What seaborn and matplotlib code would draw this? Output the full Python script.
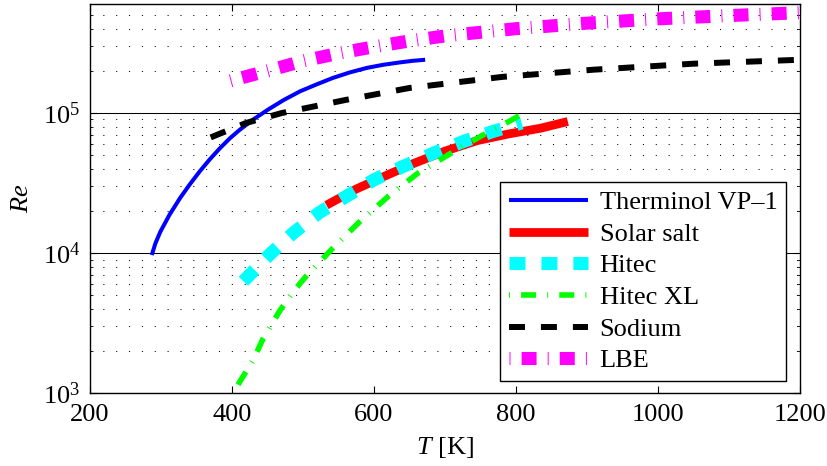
import numpy as np
import pandas as pd
import matplotlib
matplotlib.use("Agg")
import matplotlib.pyplot as plt
import seaborn as sns
from matplotlib.ticker import LogLocator, NullFormatter, FuncFormatter, FixedLocator

# Reynolds number vs. temperature for several heat-transfer fluids
therminol_T = [287, 292, 299, 312, 327, 340, 355, 369, 383, 397, 411, 430, 451,
               473, 496, 519, 542, 566, 590, 613, 637, 655, 672]
therminol_Re = [9.7e3, 1.17e4, 1.42e4, 1.88e4, 2.48e4, 3.07e4, 3.86e4, 4.69e4, 5.61e4, 6.6e4,
                7.6e4, 9.0e4, 1.06e5, 1.24e5, 1.43e5, 1.6e5, 1.78e5, 1.95e5, 2.1e5,
                2.21e5, 2.3e5, 2.36e5, 2.4e5]

solar_T = [533, 575, 618, 655, 700, 745, 790, 835, 873]
solar_Re = [2.2e4, 2.87e4, 3.6e4, 4.35e4, 5.35e4, 6.35e4, 7.1e4, 7.8e4, 8.7e4]

hitec_T = [416, 454, 486, 523, 562, 600, 641, 684, 726, 768, 808]
hitec_Re = [6.3e3, 9.9e3, 1.39e4, 1.95e4, 2.56e4, 3.34e4, 4.16e4, 5.18e4, 6.27e4, 7.4e4, 8.5e4]

hitecxl_T = [400, 411, 430, 444, 468, 486, 505, 540, 580, 620, 662, 712, 752, 790, 817]
hitecxl_Re = [9.7e2, 1.21e3, 1.73e3, 2.47e3, 3.93e3, 5.3e3, 6.9e3, 1.06e4, 1.68e4, 2.54e4,
              3.73e4, 5.3e4, 6.9e4, 8.7e4, 1.04e5]

sodium_T = [370, 420, 470, 560, 650, 780, 910, 1050, 1200]
sodium_Re = [6.7e4, 8.5e4, 1.0e5, 1.24e5, 1.51e5, 1.81e5, 2.04e5, 2.25e5, 2.4e5]

lbe_T = [398, 450, 500, 550, 600, 650, 700, 800, 900, 1000, 1100, 1200]
lbe_Re = [1.7e5, 2.0e5, 2.35e5, 2.67e5, 2.97e5, 3.27e5, 3.55e5, 4.0e5, 4.38e5, 4.7e5, 4.96e5, 5.2e5]

labels = ["Therminol VP\u20131", "Solar salt", "Hitec", "Hitec XL", "Sodium", "LBE"]
x_ticks = [200, 400, 600, 800, 1000, 1200]

FS = 19

sns.set_theme(style="white")
plt.rcParams.update({
    "font.family": ["Liberation Serif", "DejaVu Serif"],
    "font.size": FS,
    "mathtext.fontset": "custom",
    "mathtext.rm": "Liberation Serif",
    "mathtext.it": "Liberation Serif:italic",
    "mathtext.bf": "Liberation Serif:bold",
    "lines.scale_dashes": False,
    "lines.solid_capstyle": "butt",
    "lines.dash_capstyle": "butt",
    "axes.edgecolor": "black",
    "axes.linewidth": 1.0,
    "axes.labelcolor": "black",
    "text.color": "black",
    "xtick.color": "black",
    "ytick.color": "black",
})

fig = plt.figure(figsize=(8.27, 4.66), dpi=100)
ax = fig.add_axes([90 / 827, 72.7 / 466, 710 / 827, 389.3 / 466])

dashdot = (0.7, 8.0, 10.8, 8.0)
styles = [
    (therminol_T, therminol_Re, "#0000ff", 2.9, None),
    (solar_T, solar_Re, "#ff0000", 6.3, None),
    (hitec_T, hitec_Re, "#00ffff", 9.4, (11.5, 11.5)),
    (hitecxl_T, hitecxl_Re, "#00ff00", 4.0, dashdot),
    (sodium_T, sodium_Re, "#000000", 4.3, (11.5, 11.5)),
    (lbe_T, lbe_Re, "#ff00ff", 9.4, dashdot),
]

for label, (T, Re, color, lw, dashes) in zip(labels, styles):
    df = pd.DataFrame({"T": T, "Re": Re})
    sns.lineplot(data=df, x="T", y="Re", ax=ax, color=color, linewidth=lw,
                 label=label, sort=False, estimator=None)
    line = ax.get_lines()[-1]
    if dashes is not None:
        line.set_dashes(dashes)

ax.set_yscale("log")
ax.set_xlim(200, 1200)
ax.set_ylim(1e3, 6e5)
ax.xaxis.set_major_locator(FixedLocator(x_ticks))
ax.yaxis.set_major_locator(LogLocator(base=10, numticks=10))
ax.yaxis.set_minor_locator(LogLocator(base=10, subs=np.arange(2, 10), numticks=20))
ax.yaxis.set_minor_formatter(NullFormatter())
ax.yaxis.set_major_formatter(FuncFormatter(lambda v, p: r"$10^{%d}$" % round(np.log10(v))))

ax.set_axisbelow(True)
ax.xaxis.grid(False)
ax.yaxis.grid(True, which="major", color="black", linestyle="-", linewidth=0.75)
ax.yaxis.grid(True, which="minor", color="black", linestyle=(0, (0.75, 8.5)), linewidth=0.75)

ax.tick_params(which="both", direction="in", top=True, right=True, bottom=True, left=True,
               labelsize=FS)
ax.tick_params(which="major", length=5, width=0.8)
ax.tick_params(which="minor", length=2.5, width=0.6)
ax.tick_params(axis="x", pad=8)
ax.tick_params(axis="y", pad=7)

for s in ax.spines.values():
    s.set_visible(True)
    s.set_color("black")
    s.set_linewidth(1.0)

ax.set_xlabel(r"$T$ [K]", fontsize=FS)
ax.set_ylabel(r"$Re$", fontsize=FS)
ax.xaxis.set_label_coords(0.5, -0.106)
ax.yaxis.set_label_coords(-0.08, 0.5)

leg = ax.legend(loc="lower right", bbox_to_anchor=(0.980, 0.032), borderaxespad=0,
                frameon=True, fancybox=False, edgecolor="black", framealpha=1,
                handlelength=3.0, handletextpad=0.45, borderpad=0.32,
                labelspacing=0.31, fontsize=FS)
leg.get_frame().set_linewidth(1.0)

fig.savefig("out.png", dpi=100)
